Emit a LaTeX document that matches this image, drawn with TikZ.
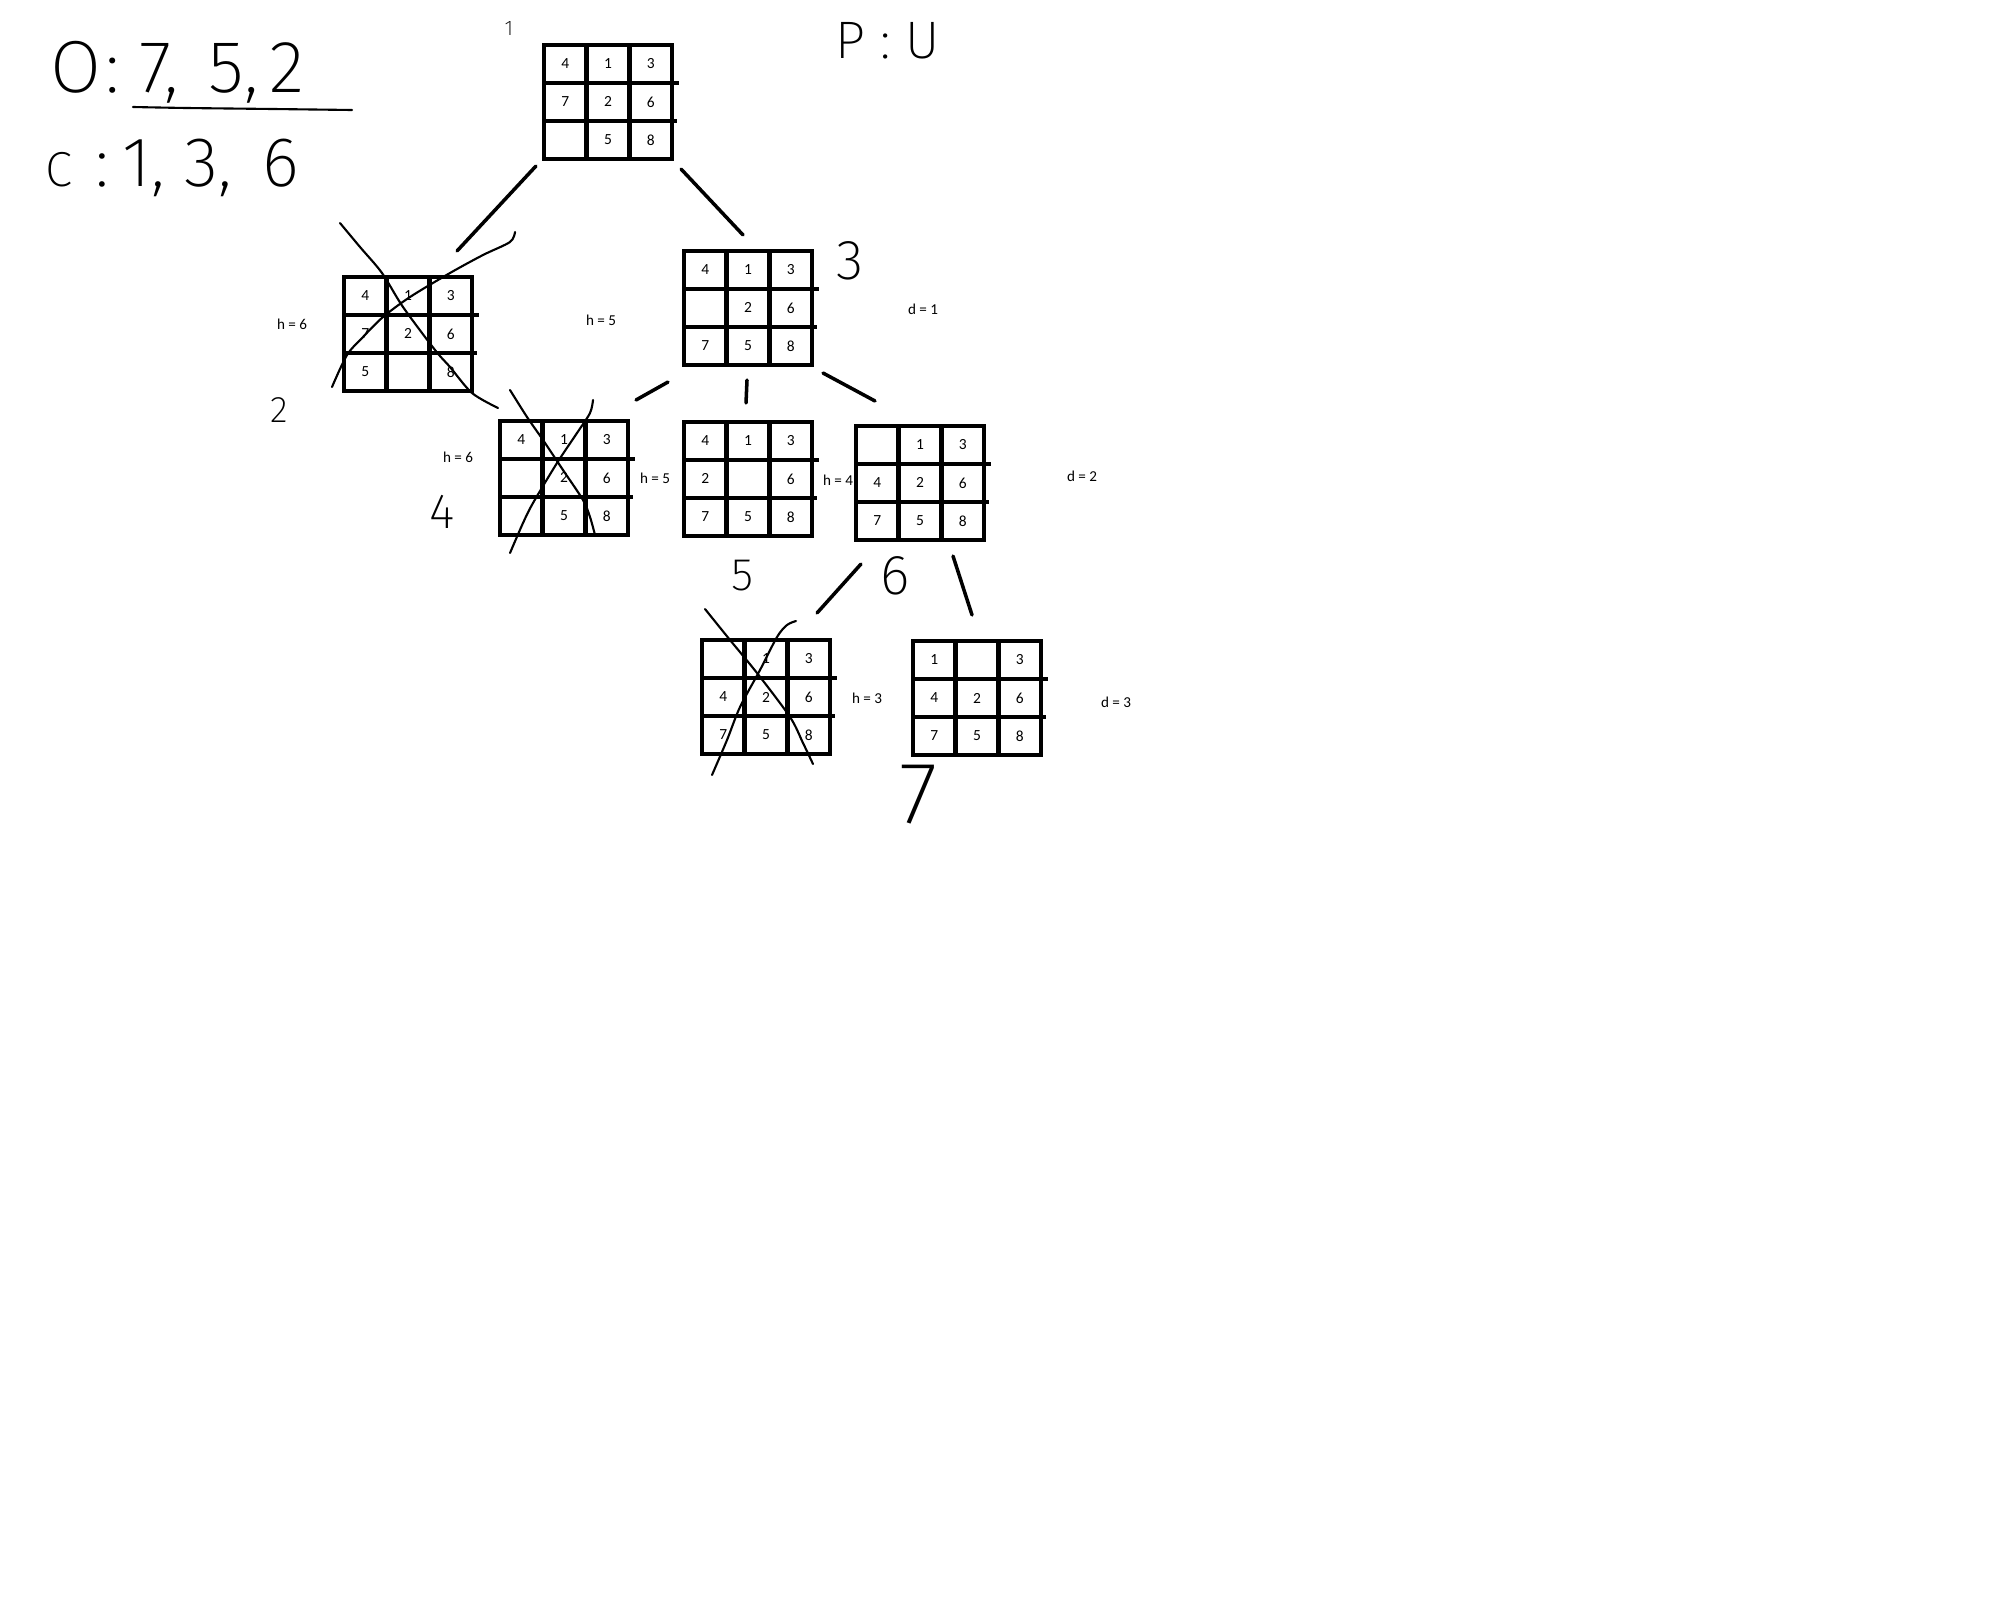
\documentclass[tikz,border=0pt]{standalone}
\usepackage{fontspec}
\usepackage{tikz}
\usetikzlibrary{calc}
\newfontfamily\cellfont{Carlito}
\IfFontExistsTF{Fira Sans ExtraLight}{\newfontfamily\handfont{Fira Sans ExtraLight}}{%
  \IfFontExistsTF{Fira Sans Light}{\newfontfamily\handfont{Fira Sans Light}}{\newfontfamily\handfont{Fira Sans}}}

% nine tiles of a board, row by row, empty entry = blank
\newcommand{\tiles}[2]{%
  \foreach \t [count=\k from 0] in {#2}{%
    \ifx\t\empty\else
      \pgfmathtruncatemacro\tc{mod(\k,3)}%
      \pgfmathtruncatemacro\tr{div(\k,3)}%
      \node[tile] (#1-\tr\tc) at ($(#1.north west)+(21.3+42.7*\tc,19+38*\tr)$) {\t};
    \fi}}

\begin{document}
\begin{tikzpicture}[x=0.01cm,y=-0.01cm,
    frame/.style={draw,line width=1.3pt,minimum width=1.28cm,minimum height=1.14cm,
      inner sep=0pt,outer sep=0pt},
    grid/.style={line width=1.3pt},
    tile/.style={font=\cellfont\fontsize{4.4}{5}\selectfont,inner sep=0pt},
    link/.style={line width=1pt,line cap=round},
    pen/.style={line width=0.6pt,line cap=round,line join=round},
    note/.style={font=\cellfont\fontsize{4.3}{5}\selectfont,inner sep=0pt},
    hand/.style={font=\handfont\fontsize{#1}{#1}\selectfont,inner sep=0pt}]
  \path[fill=white] (0,0) rectangle (2004,1612);
  % open / closed / path lists
  \node[hand=21,anchor=base west] (open) at (50,92)
    {O\hspace{0.05em}:\hspace{0.27em}7,\hspace{0.4em}5,\hspace{0.15em}2};
  \draw[pen] plot[smooth] coordinates {(133,107) (187,108) (273,109) (352,110)};
  \node[hand=20,anchor=base west] (closed) at (45,186)
    {{\fontsize{14}{14}\selectfont C}\hspace{0.33em}:\hspace{0.19em}1,\hspace{0.27em}3,\hspace{0.44em}6};
  \node[hand=15,anchor=base west] (path) at (835,58) {P : U};
  % boards
  \node[frame] (b1) at (608,102) {};
  \node[frame] (b2) at (408,334) {};
  \node[frame] (b3) at (748,308) {};
  \node[frame] (b4) at (564,478) {};
  \node[frame] (b5) at (748,479) {};
  \node[frame] (b6) at (920,483) {};
  \node[frame] (b7) at (766,697) {};
  \node[frame] (b8) at (977,698) {};
  % inner lines, rows run past the right edge
  \foreach \brd in {b1,b2,b3,b4,b5,b6,b7,b8}{
    \draw[grid] ($(\brd.north west)!1/3!(\brd.north east)$) -- ($(\brd.south west)!1/3!(\brd.south east)$)
                ($(\brd.north west)!2/3!(\brd.north east)$) -- ($(\brd.south west)!2/3!(\brd.south east)$);
    \draw[grid] ($(\brd.north west)!1/3!(\brd.south west)$) -- ($(\brd.north east)!1/3!(\brd.south east)+(7,0)$)
                ($(\brd.north west)!2/3!(\brd.south west)$) -- ($(\brd.north east)!2/3!(\brd.south east)+(5,0)$);
  }
  \tiles{b1}{4,1,3,7,2,6,,5,8}
  \tiles{b2}{4,1,3,7,2,6,5,,8}
  \tiles{b3}{4,1,3,,2,6,7,5,8}
  \tiles{b4}{4,1,3,,2,6,,5,8}
  \tiles{b5}{4,1,3,2,,6,7,5,8}
  \tiles{b6}{,1,3,4,2,6,7,5,8}
  \tiles{b7}{,1,3,4,2,6,7,5,8}
  \tiles{b8}{1,,3,4,2,6,7,5,8}
  % step numbers
  \node[hand=6] (s1) at (509,28) {1};
  \node[hand=10.5] (s2) at (279,410) {2};
  \node[hand=16] (s3) at (850,261) {3};
  \node[hand=14] (s4) at (442,512) {4};
  \node[hand=13] (s5) at (743,576) {5};
  \node[hand=16] (s6) at (895,576) {6};
  \node[hand=25] (s7) at (919,795) {7};
  % tree edges
  \draw[link] ($(b1.south west)+(-8,7)$) -- ($(b2.north east)+(-15,-26)$);
  \draw[link] ($(b1.south east)+(9,10)$) -- ($(b3.north)+(-5,-16)$);
  \draw[link] ($(b3.south west)+(-16,17)$) -- ($(b4.north east)+(8,-21)$);
  \draw[link] ($(b3.south)+(-1,15)$) -- ($(b5.north)+(-2,-19)$);
  \draw[link] ($(b3.south east)+(11,8)$) -- ($(b6.north west)+(19,-25)$);
  \draw[link] ($(b6.south west)+(5,24)$) -- ($(b7.north east)+(-13,-27)$);
  \draw[link] ($(b6.south)+(33,16)$) -- ($(b8.north)+(-5,-26)$);
  % heuristic and depth values
  \node[note] (h2) at (292,324) {h = 6};
  \node[note] (h3) at (601,320) {h = 5};
  \node[note] (h4) at (458,457) {h = 6};
  \node[note] (h5) at (655,478) {h = 5};
  \node[note] (h6) at (838,480) {h = 4};
  \node[note] (h7) at (867,698) {h = 3};
  \node[note] (d1) at (923,309) {d = 1};
  \node[note] (d2) at (1082,476) {d = 2};
  \node[note] (d3) at (1116,702) {d = 3};
  % crossed out boards
  \draw[pen] plot[smooth] coordinates {(340,223) (360,247) (382,273) (403,307) (435,350) (450,367) (472,393) (498,408)};
  \draw[pen] plot[smooth] coordinates {(332,387) (347,355) (363,337) (383,317) (410,297) (450,273) (483,255) (510,242) (515,232)};
  \draw[pen] plot[smooth] coordinates {(510,390) (527,417) (543,440) (563,470) (583,500) (590,517) (595,535)};
  \draw[pen] plot[smooth] coordinates {(510,553) (523,523) (533,503) (557,463) (577,433) (590,413) (593,400)};
  \draw[pen] plot[smooth] coordinates {(705,609) (730,640) (757,673) (790,717) (803,743) (813,764)};
  \draw[pen] plot[smooth] coordinates {(712,775) (727,740) (740,707) (760,670) (777,637) (787,625) (796,621)};
\end{tikzpicture}
\end{document}
